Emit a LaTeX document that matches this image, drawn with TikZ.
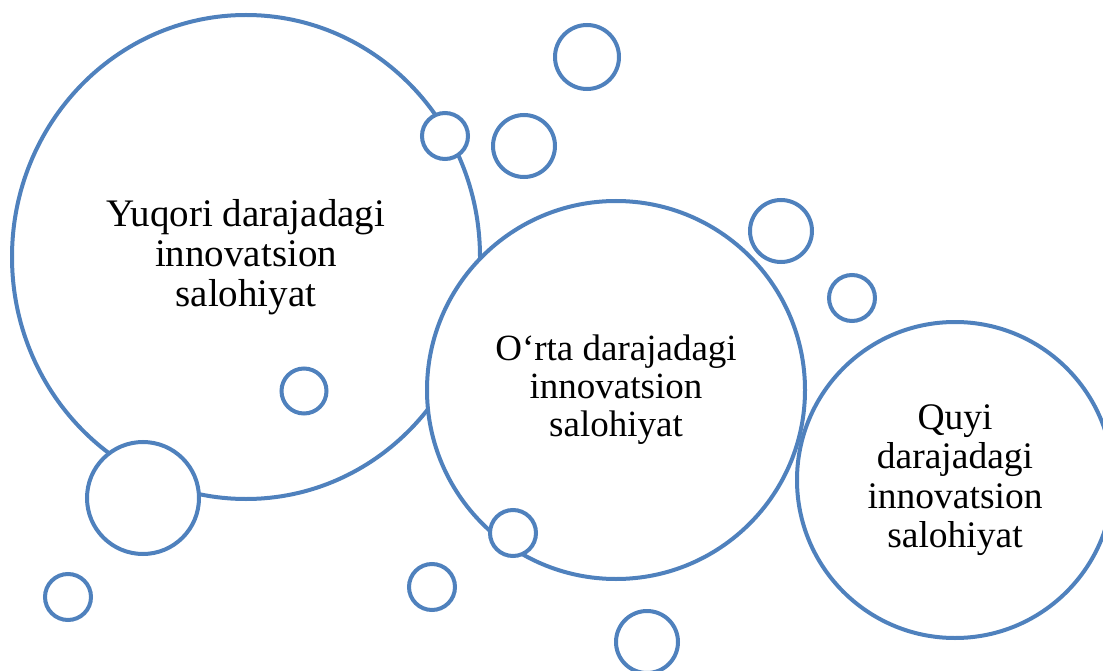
\documentclass[tikz,border=0pt]{standalone}
\usepackage{fontspec}
\setmainfont{Liberation Serif}
\usetikzlibrary{shapes.geometric}
\definecolor{bubbleblue}{HTML}{4F81BD}

\begin{document}
\begin{tikzpicture}[x=1pt,y=-1pt,
  bubble/.style={circle,draw=bubbleblue,line width=4pt,fill=white,inner sep=0pt},
  level/.style={bubble,align=center}]
\clip (0,0) rectangle (1103,671);
% three levels
\node [level,ellipse,minimum width=468pt,minimum height=484pt,font=\fontsize{39}{40}\selectfont] at (246,257) (high) {Yuqori darajadagi\\innovatsion\\salohiyat};
\node [level,minimum size=378pt,font=\fontsize{37}{38}\selectfont] at (616,390) (mid) {O‘rta darajadagi\\innovatsion\\salohiyat};
\node [level,fill=none,minimum size=316pt,font=\fontsize{37.5}{39.5}\selectfont] at (955,480) (low) {Quyi\\darajadagi\\innovatsion\\salohiyat};
% small bubbles
\node [bubble,minimum size=64pt] at (587,57) (b1) {};
\node [bubble,minimum size=46pt] at (445,136) (b2) {};
\node [bubble,minimum size=62pt] at (524,146) (b3) {};
\node [bubble,minimum size=62pt] at (781,231) (b4) {};
\node [bubble,minimum size=46pt] at (852,298) (b5) {};
\node [bubble,minimum size=45pt] at (304,391) (b6) {};
\node [bubble,minimum size=112pt] at (143,498) (b7) {};
\node [bubble,minimum size=46pt] at (513,533) (b8) {};
\node [bubble,minimum size=46pt] at (68,597) (b9) {};
\node [bubble,minimum size=46pt] at (432,587) (b10) {};
\node [bubble,minimum size=62pt] at (647,642) (b11) {};
\end{tikzpicture}
\end{document}
